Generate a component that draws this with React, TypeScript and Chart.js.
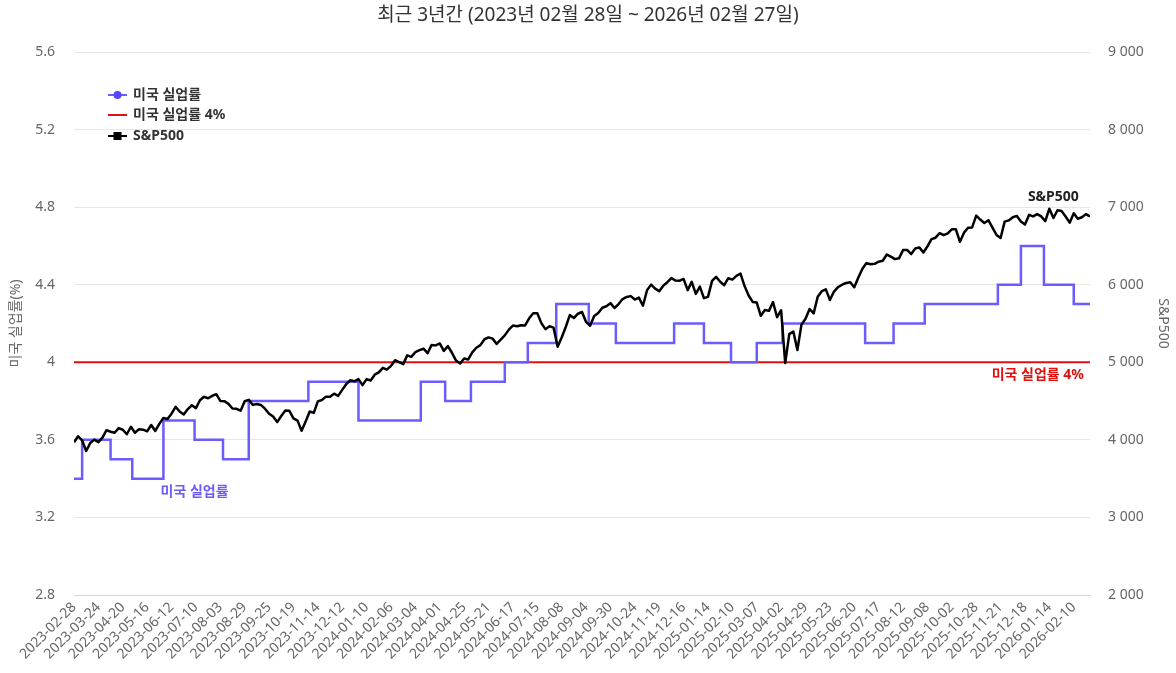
import React, { useEffect, useRef } from 'react';
import { Chart, registerables } from 'chart.js';

Chart.register(...registerables);

const FONT = '"Noto Sans", "Noto Sans CJK KR", sans-serif';

const titleText = '최근 3년간 (2023년 02월 28일 ~ 2026년 02월 27일)';
const leftAxisTitle = '미국 실업률(%)';
const rightAxisTitle = 'S&P500';
const seriesNames = ['미국 실업률', '미국 실업률 4%', 'S&P500'];

// x axis: trading-day index, one label every 18 trading days
const LABEL_STEP = 18;
const LAST_INDEX = 750;
const xTickLabels = [
  '2023-02-28', '2023-03-24', '2023-04-20', '2023-05-16', '2023-06-12', '2023-07-10',
  '2023-08-03', '2023-08-29', '2023-09-25', '2023-10-19', '2023-11-14', '2023-12-12',
  '2024-01-10', '2024-02-06', '2024-03-04', '2024-04-01', '2024-04-25', '2024-05-21',
  '2024-06-17', '2024-07-15', '2024-08-08', '2024-09-04', '2024-09-30', '2024-10-24',
  '2024-11-19', '2024-12-16', '2025-01-14', '2025-02-10', '2025-03-07', '2025-04-02',
  '2025-04-29', '2025-05-23', '2025-06-20', '2025-07-17', '2025-08-12', '2025-09-08',
  '2025-10-02', '2025-10-28', '2025-11-21', '2025-12-18', '2026-01-14', '2026-02-10',
];

const leftTicks = [2.8, 3.2, 3.6, 4.0, 4.4, 4.8, 5.2, 5.6];
const rightTicks = [2000, 3000, 4000, 5000, 6000, 7000, 8000, 9000];

// S&P500 close, one reading every 3 trading days (index 0, 3, 6, ... 750)
const SPX_STEP = 3;
const spxValues = [
  3970, 4046, 3992, 3856, 3960, 4003, 3971, 4028, 4125, 4105,
  4092, 4152, 4130, 4072, 4169, 4091, 4138, 4131, 4110, 4192,
  4115, 4206, 4282, 4268, 4338, 4426, 4366, 4328, 4397, 4446,
  4409, 4510, 4555, 4536, 4566, 4589, 4502, 4499, 4464, 4404,
  4400, 4376, 4498, 4516, 4451, 4462, 4450, 4402, 4337, 4300,
  4229, 4308, 4377, 4374, 4278, 4248, 4117, 4238, 4366, 4347,
  4496, 4514, 4557, 4555, 4595, 4567, 4644, 4719, 4768, 4755,
  4783, 4705, 4783, 4766, 4840, 4869, 4928, 4906, 4954, 5027,
  5001, 4976, 5089, 5070, 5131, 5157, 5175, 5117, 5224, 5218,
  5243, 5147, 5209, 5123, 5022, 4985, 5048, 5036, 5128, 5188,
  5221, 5297, 5321, 5305, 5236, 5291, 5347, 5421, 5473, 5465,
  5478, 5475, 5567, 5633, 5631, 5505, 5427, 5464, 5446, 5200,
  5319, 5455, 5608, 5570, 5626, 5648, 5520, 5471, 5596, 5634,
  5703, 5722, 5762, 5700, 5751, 5815, 5842, 5853, 5809, 5833,
  5729, 5929, 6001, 5949, 5917, 5987, 6032, 6086, 6053, 6051,
  6074, 5930, 6037, 5882, 5975, 5827, 5843, 6049, 6101, 6039,
  5994, 6084, 6066, 6115, 6144, 5983, 5861, 5778, 5770, 5599,
  5675, 5663, 5777, 5581, 5671, 4990, 5363, 5397, 5158, 5485,
  5561, 5687, 5631, 5844, 5917, 5940, 5803, 5912, 5970, 6000,
  6022, 6033, 5967, 6092, 6205, 6279, 6263, 6269, 6297, 6309,
  6389, 6362, 6330, 6340, 6446, 6449, 6395, 6467, 6481, 6416,
  6495, 6587, 6606, 6664, 6638, 6661, 6715, 6714, 6553, 6671,
  6735, 6738, 6891, 6840, 6796, 6832, 6737, 6642, 6603, 6813,
  6829, 6870, 6887, 6816, 6775, 6900, 6880, 6910, 6880, 6820,
  6980, 6860, 6960, 6950, 6880, 6800, 6920, 6850, 6870, 6910,
  6880,
];

// Unemployment rate: trading-day index where a new value starts, and that value
const unempChangeIndex = [
  0, 6, 27, 43, 66, 89, 110, 129, 173, 210, 256, 274, 293, 318, 335, 356,
  380, 400, 443, 465, 485, 504, 523, 584, 605, 628, 682, 699, 716, 738, 750,
];
const unempValues = [
  3.4, 3.6, 3.5, 3.4, 3.7, 3.6, 3.5, 3.8, 3.9, 3.7, 3.9, 3.8, 3.9, 4.0, 4.1, 4.3,
  4.2, 4.1, 4.2, 4.1, 4.0, 4.1, 4.2, 4.1, 4.2, 4.3, 4.4, 4.6, 4.4, 4.3, 4.3,
];

const thresholdValue = 4.0;
const unempLabelAnchor = { x: 89, y: 3.4 };

const BLUE = '#6a5cff';
const BLUE_MARK = '#5546ff';
const RED = '#e01010';
const BLACK = '#000000';

const overlayPlugin = {
  id: 'overlay',
  afterDraw(chart: any) {
    const { ctx, chartArea, scales } = chart;
    const xs = scales.x;
    const yl = scales.yLeft;
    const yr = scales.yRight;
    ctx.save();

    // title
    ctx.fillStyle = '#333333';
    ctx.font = `19px ${FONT}`;
    ctx.textAlign = 'center';
    ctx.textBaseline = 'middle';
    ctx.fillText(titleText, chart.width / 2, 16);

    // axis titles
    const midY = (chartArea.top + chartArea.bottom) / 2;
    ctx.fillStyle = '#666666';
    ctx.font = `14px ${FONT}`;
    ctx.save();
    ctx.translate(16, midY);
    ctx.rotate(-Math.PI / 2);
    ctx.fillText(leftAxisTitle, 0, 0);
    ctx.restore();
    ctx.save();
    ctx.translate(1163, midY);
    ctx.rotate(Math.PI / 2);
    ctx.fillText(rightAxisTitle, 0, 0);
    ctx.restore();

    // legend
    const lx = 108;
    const ly = [95, 115, 136];
    ctx.font = `bold 14px ${FONT}`;
    ctx.textAlign = 'left';
    ctx.lineWidth = 2;
    ctx.strokeStyle = BLUE;
    ctx.beginPath(); ctx.moveTo(lx, ly[0]); ctx.lineTo(lx + 19, ly[0]); ctx.stroke();
    ctx.fillStyle = BLUE_MARK;
    ctx.beginPath(); ctx.arc(lx + 9.5, ly[0], 4, 0, Math.PI * 2); ctx.fill();
    ctx.strokeStyle = RED;
    ctx.beginPath(); ctx.moveTo(lx, ly[1]); ctx.lineTo(lx + 19, ly[1]); ctx.stroke();
    ctx.strokeStyle = BLACK;
    ctx.beginPath(); ctx.moveTo(lx, ly[2]); ctx.lineTo(lx + 19, ly[2]); ctx.stroke();
    ctx.fillStyle = BLACK;
    ctx.fillRect(lx + 5.5, ly[2] - 4, 8, 8);
    ctx.fillStyle = '#333333';
    seriesNames.forEach((n, i) => ctx.fillText(n, lx + 25, ly[i]));

    // series labels
    ctx.font = `bold 14px ${FONT}`;
    let mi = 0;
    spxValues.forEach((v, i) => { if (v > spxValues[mi]) mi = i; });
    ctx.fillStyle = '#222222';
    ctx.textAlign = 'center';
    ctx.fillText(seriesNames[2], xs.getPixelForValue(mi * SPX_STEP) + 4, yr.getPixelForValue(spxValues[mi]) - 12);
    ctx.fillStyle = RED;
    ctx.textAlign = 'right';
    ctx.fillText(seriesNames[1], xs.getPixelForValue(LAST_INDEX) - 6, yl.getPixelForValue(thresholdValue) + 13);
    ctx.fillStyle = BLUE;
    ctx.textAlign = 'center';
    ctx.fillText(seriesNames[0], xs.getPixelForValue(unempLabelAnchor.x), yl.getPixelForValue(unempLabelAnchor.y) + 13);

    ctx.restore();
  },
};

export default function App() {
  const ref = useRef<HTMLCanvasElement | null>(null);

  useEffect(() => {
    if (!ref.current) return;
    const spxData = spxValues.map((v, i) => ({ x: i * SPX_STEP, y: v }));
    const unempData = unempChangeIndex.map((x, i) => ({ x, y: unempValues[i] }));
    const thresholdData = [
      { x: 0, y: thresholdValue },
      { x: LAST_INDEX, y: thresholdValue },
    ];

    const chart = new Chart(ref.current, {
      type: 'line',
      data: {
        datasets: [
          {
            label: seriesNames[2],
            data: spxData,
            yAxisID: 'yRight',
            borderColor: BLACK,
            borderWidth: 2.5,
            pointRadius: 0,
            tension: 0,
            borderJoinStyle: 'round',
          },
          {
            label: seriesNames[0],
            data: unempData,
            yAxisID: 'yLeft',
            borderColor: BLUE,
            borderWidth: 2.5,
            pointRadius: 0,
            stepped: 'before',
          },
          {
            label: seriesNames[1],
            data: thresholdData,
            yAxisID: 'yLeft',
            borderColor: RED,
            borderWidth: 2,
            pointRadius: 0,
          },
        ],
      },
      options: {
        responsive: false,
        animation: false,
        devicePixelRatio: 1,
        layout: { padding: { top: 52, left: 0, right: 0, bottom: 0 } },
        plugins: {
          legend: { display: false },
          title: { display: false },
          tooltip: { enabled: false },
        },
        scales: {
          x: {
            type: 'linear',
            min: 0,
            max: LAST_INDEX,
            afterBuildTicks: (s: any) => {
              s.ticks = xTickLabels.map((_, i) => ({ value: i * LABEL_STEP }));
            },
            afterFit: (s: any) => { s.height = 78; },
            ticks: {
              autoSkip: false,
              minRotation: 45,
              maxRotation: 45,
              color: '#666666',
              font: { family: FONT, size: 14 },
              padding: 4,
              callback: (v: any) => xTickLabels[Math.round(Number(v) / LABEL_STEP)] ?? '',
            },
            grid: { display: false, drawTicks: false },
            border: { display: true, color: '#ccd6eb', width: 1 },
          },
          yLeft: {
            type: 'linear',
            position: 'left',
            min: 2.8,
            max: 5.6,
            afterBuildTicks: (s: any) => { s.ticks = leftTicks.map((v) => ({ value: v })); },
            afterFit: (s: any) => { s.width = 74; },
            ticks: {
              color: '#666666',
              font: { family: FONT, size: 14 },
              padding: 19,
              callback: (v: any) => String(Number(Number(v).toFixed(1))),
            },
            grid: {
              drawTicks: false,
              color: (c: any) => (c.tick && Math.abs(c.tick.value - 2.8) < 1e-6 ? '#ccd6eb' : '#e6e6e6'),
              lineWidth: 1,
            },
            border: { display: false },
          },
          yRight: {
            type: 'linear',
            position: 'right',
            min: 2000,
            max: 9000,
            afterBuildTicks: (s: any) => { s.ticks = rightTicks.map((v) => ({ value: v })); },
            afterFit: (s: any) => { s.width = 86; },
            ticks: {
              color: '#666666',
              font: { family: FONT, size: 14 },
              padding: 18,
              callback: (v: any) => {
                const n = Math.round(Number(v));
                return String(n).replace(/\B(?=(\d{3})+(?!\d))/g, ' ');
              },
            },
            grid: { display: false, drawTicks: false },
            border: { display: false },
          },
        },
      },
      plugins: [overlayPlugin],
    } as any);

    return () => chart.destroy();
  }, []);

  return (
    <div style={{ position: 'fixed', left: 0, top: 0, width: 1176, height: 673, background: '#ffffff' }}>
      <canvas ref={ref} width={1176} height={673} style={{ display: 'block', width: 1176, height: 673 }} />
    </div>
  );
}
